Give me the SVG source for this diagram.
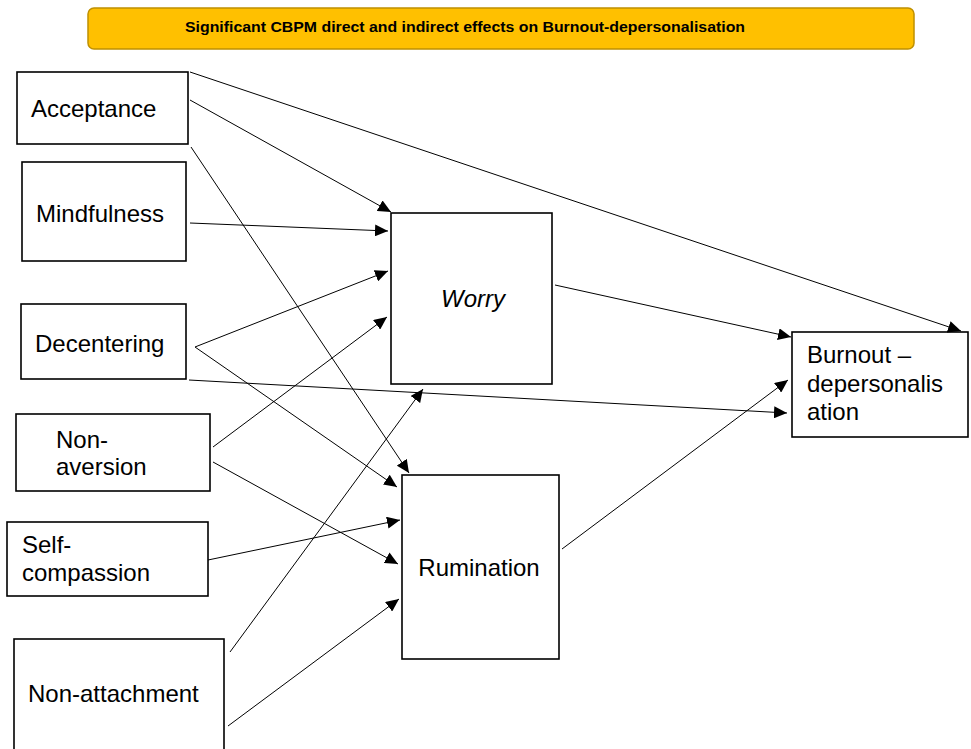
<svg xmlns="http://www.w3.org/2000/svg" width="971" height="749" viewBox="0 0 971 749">
  <style>
    .box { fill: #ffffff; stroke: #000000; stroke-width: 1.6; }
    .lbl { font-family: "Liberation Sans", Arial, sans-serif; font-size: 24px; fill: #000000; }
    .edge { stroke: #000000; stroke-width: 1; fill: none; marker-end: url(#arrow); }
  </style>
  <defs>
    <marker id="arrow" markerUnits="userSpaceOnUse" markerWidth="14" markerHeight="12" refX="13" refY="6" orient="auto">
      <path d="M0,0 L13,6 L0,12 Z" fill="#000000"/>
    </marker>
  </defs>

  <rect width="971" height="749" fill="#ffffff"/>

  <!-- heading banner -->
  <g id="title">
    <rect x="88" y="8" width="826" height="41" rx="6" ry="6" fill="#FFC000" stroke="#BF9000" stroke-width="1.5"/>
    <text x="465" y="32" text-anchor="middle" font-family="Liberation Sans, Arial, sans-serif" font-weight="bold" font-size="15.5" textLength="560" lengthAdjust="spacingAndGlyphs">Significant CBPM direct and indirect effects on Burnout-depersonalisation</text>
  </g>

  <!-- predictors -->
  <g id="acceptance">
    <rect class="box" x="17" y="72" width="171" height="72"/>
    <text class="lbl" x="31" y="117">Acceptance</text>
  </g>
  <g id="mindfulness">
    <rect class="box" x="22" y="162" width="164" height="99"/>
    <text class="lbl" x="36" y="222">Mindfulness</text>
  </g>
  <g id="decentering">
    <rect class="box" x="21" y="304" width="165" height="75"/>
    <text class="lbl" x="35" y="352">Decentering</text>
  </g>
  <g id="non-aversion">
    <rect class="box" x="16" y="414" width="194" height="77"/>
    <text class="lbl" x="56" y="448">Non-</text>
    <text class="lbl" x="56" y="475">aversion</text>
  </g>
  <g id="self-compassion">
    <rect class="box" x="7" y="522" width="201" height="74"/>
    <text class="lbl" x="22" y="553">Self-</text>
    <text class="lbl" x="22" y="581">compassion</text>
  </g>
  <g id="non-attachment">
    <rect class="box" x="14" y="639" width="210" height="112"/>
    <text class="lbl" x="28" y="702">Non-attachment</text>
  </g>

  <!-- mediators -->
  <g id="worry">
    <rect class="box" x="391" y="213" width="161" height="171"/>
    <text class="lbl" x="473" y="307" text-anchor="middle" font-style="italic">Worry</text>
  </g>
  <g id="rumination">
    <rect class="box" x="402" y="475" width="157" height="184"/>
    <text class="lbl" x="479" y="576" text-anchor="middle">Rumination</text>
  </g>

  <!-- outcome -->
  <g id="burnout">
    <rect class="box" x="792" y="332" width="176" height="105"/>
    <text class="lbl" x="807" y="363">Burnout –</text>
    <text class="lbl" x="807" y="392">depersonalis</text>
    <text class="lbl" x="807" y="420">ation</text>
  </g>

  <!-- paths -->
  <g id="connectors">
    <line class="edge" x1="190" y1="72" x2="961" y2="331"/>
    <line class="edge" x1="190" y1="100" x2="391" y2="212"/>
    <line class="edge" x1="191" y1="147" x2="409" y2="473"/>
    <line class="edge" x1="190" y1="223" x2="388" y2="231"/>
    <line class="edge" x1="195" y1="347" x2="388" y2="271"/>
    <line class="edge" x1="195" y1="347" x2="397" y2="487"/>
    <line class="edge" x1="189" y1="380" x2="787" y2="413"/>
    <line class="edge" x1="213" y1="447" x2="387" y2="317"/>
    <line class="edge" x1="213" y1="462" x2="398" y2="564"/>
    <line class="edge" x1="208" y1="560" x2="400" y2="520"/>
    <line class="edge" x1="230" y1="652" x2="423" y2="389"/>
    <line class="edge" x1="228" y1="726" x2="399" y2="599"/>
    <line class="edge" x1="555" y1="285" x2="791" y2="337"/>
    <line class="edge" x1="562" y1="549" x2="788" y2="380"/>
  </g>
</svg>
